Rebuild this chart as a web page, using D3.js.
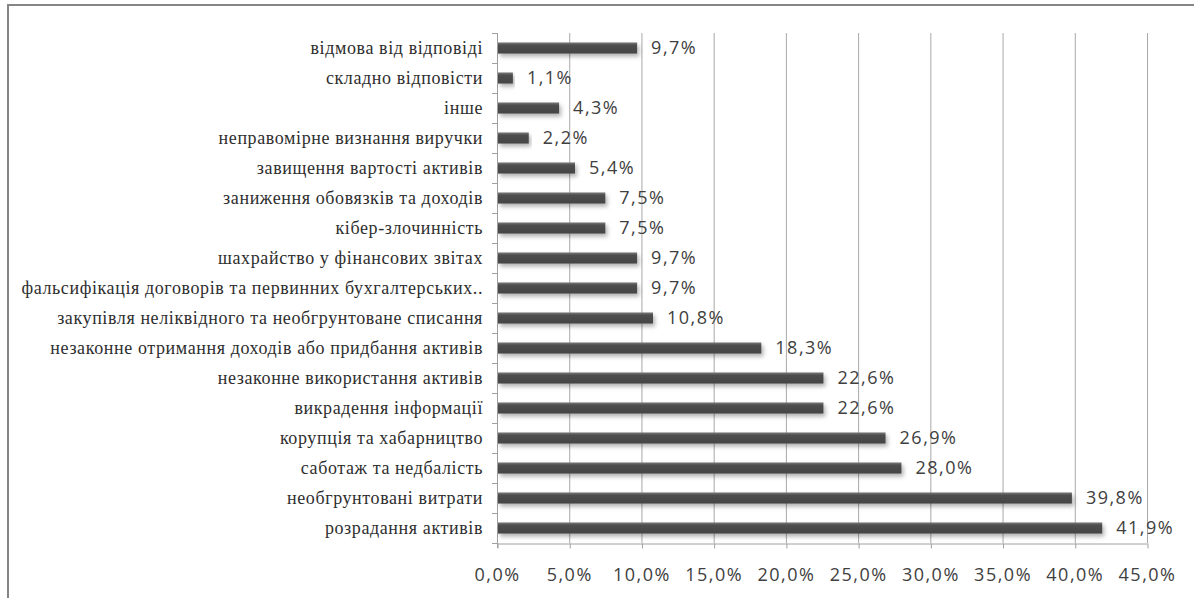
<!DOCTYPE html>
<html>
<head>
<meta charset="utf-8">
<script src="https://cdn.jsdelivr.net/npm/d3@7"></script>
<style>
  body { margin: 0; background: #fff; }
</style>
</head>
<body>
<svg id="chart"></svg>
<script>
// data, top to bottom as in the chart
var categories = [
    "відмова від відповіді",
    "складно відповісти",
    "інше",
    "неправомірне визнання виручки",
    "завищення вартості активів",
    "заниження обовязків та доходів",
    "кібер-злочинність",
    "шахрайство у фінансових звітах",
    "фальсифікація договорів та первинних бухгалтерських..",
    "закупівля неліквідного та необгрунтоване списання",
    "незаконне отримання доходів або придбання активів",
    "незаконне використання активів",
    "викрадення інформації",
    "корупція та хабарництво",
    "саботаж та недбалість",
    "необгрунтовані витрати",
    "розрадання активів"
];
var values = [9.7, 1.1, 4.3, 2.2, 5.4, 7.5, 7.5, 9.7, 9.7, 10.8, 18.3, 22.6, 22.6, 26.9, 28.0, 39.8, 41.9];
var tickValues = [0, 5, 10, 15, 20, 25, 30, 35, 40, 45];

var dimensions = {
    width: 1194,
    height: 598,
    margin: { top: 33, bottom: 55, right: 47, left: 497 }
};

var fmt = function (v) { return v.toFixed(1).replace(".", ",") + "%"; };

var svg = d3.select("#chart")
    .attr("width", dimensions.width)
    .attr("height", dimensions.height);

var defs = svg.append("defs");
var grad = defs.append("linearGradient")
    .attr("id", "barGrad")
    .attr("x1", 0).attr("y1", 0).attr("x2", 0).attr("y2", 1);
grad.append("stop").attr("offset", "0%").attr("stop-color", "#7a7a7a");
grad.append("stop").attr("offset", "25%").attr("stop-color", "#4e4e4e");
grad.append("stop").attr("offset", "100%").attr("stop-color", "#444444");

var shadow = defs.append("filter")
    .attr("id", "shadow")
    .attr("x", "-5%").attr("y", "-50%")
    .attr("width", "115%").attr("height", "250%");
shadow.append("feDropShadow")
    .attr("dx", 2).attr("dy", 3)
    .attr("stdDeviation", 2)
    .attr("flood-color", "#000")
    .attr("flood-opacity", 0.3);

// frame (only left and top visible)
svg.append("rect")
    .attr("x", 8).attr("y", 5)
    .attr("width", 1300).attr("height", 700)
    .attr("fill", "none")
    .attr("stroke", "#858585")
    .attr("stroke-width", 2);

var xScale = d3.scaleLinear()
    .domain([0, 45])
    .range([dimensions.margin.left, dimensions.width - dimensions.margin.right]);

var yScale = d3.scaleBand()
    .domain(categories)
    .range([dimensions.margin.top, dimensions.height - dimensions.margin.bottom])
    .paddingInner(0.63)
    .paddingOuter(0.315);

var bandScale = d3.scaleBand()
    .domain(categories)
    .range([dimensions.margin.top, dimensions.height - dimensions.margin.bottom]);

var yTop = dimensions.margin.top;
var yBottom = dimensions.height - dimensions.margin.bottom;

// gridlines
svg.append("g")
    .selectAll("line")
    .data(tickValues.slice(1))
    .enter()
    .append("line")
    .attr("x1", d => xScale(d) + 0.5)
    .attr("x2", d => xScale(d) + 0.5)
    .attr("y1", yTop)
    .attr("y2", yBottom)
    .attr("stroke", "#a8a8a8")
    .attr("stroke-width", 1);

// bottom axis
var xAxis = svg.append("g")
    .attr("transform", `translate(0, ${yBottom + 0.5})`)
    .call(d3.axisBottom(xScale).tickValues(tickValues).tickSize(5).tickSizeOuter(0).tickFormat(d => fmt(d)));
xAxis.select(".domain").attr("stroke", "#a0a0a0");
xAxis.selectAll(".tick line").attr("stroke", "#a0a0a0").attr("transform", "translate(0.5,0)");
xAxis.selectAll(".tick text")
    .attr("y", 25)
    .attr("dy", "0.71em")
    .attr("fill", "#404040")
    .style("font-family", "'Open Sans', sans-serif")
    .style("font-size", "18px")
    .style("letter-spacing", "1.5px");

// left axis with ticks at band boundaries
var yAxis = svg.append("g");
yAxis.append("line")
    .attr("x1", xScale(0) + 0.5).attr("x2", xScale(0) + 0.5)
    .attr("y1", yTop).attr("y2", yBottom + 5)
    .attr("stroke", "#a0a0a0");
yAxis.selectAll(".btick")
    .data(categories.concat(["__end"]))
    .enter()
    .append("line")
    .attr("class", "btick")
    .attr("x1", xScale(0) - 5).attr("x2", xScale(0))
    .attr("y1", (d, i) => (i < categories.length ? bandScale(d) : yBottom) + 0.5)
    .attr("y2", (d, i) => (i < categories.length ? bandScale(d) : yBottom) + 0.5)
    .attr("stroke", "#a0a0a0");

// category labels
svg.append("g")
    .selectAll("text")
    .data(categories)
    .enter()
    .append("text")
    .attr("x", xScale(0) - 14)
    .attr("y", d => bandScale(d) + bandScale.bandwidth() / 2)
    .attr("dy", "0.32em")
    .attr("text-anchor", "end")
    .attr("fill", "#2e2e2e")
    .style("font-family", "'Liberation Serif', serif")
    .style("font-size", "18px")
    .style("letter-spacing", "0.6px")
    .text(d => d);

// bars
var data = categories.map((c, i) => ({ cat: c, value: values[i] }));

svg.append("g")
    .selectAll("rect")
    .data(data)
    .enter()
    .append("rect")
    .attr("x", xScale(0) + 1)
    .attr("y", d => yScale(d.cat))
    .attr("width", d => xScale(d.value) - xScale(0) - 1)
    .attr("height", yScale.bandwidth())
    .attr("fill", "url(#barGrad)")
    .attr("filter", "url(#shadow)");

// value labels
svg.append("g")
    .selectAll("text")
    .data(data)
    .enter()
    .append("text")
    .attr("x", d => xScale(d.value) + 14)
    .attr("y", d => yScale(d.cat) + yScale.bandwidth() / 2)
    .attr("dy", "0.36em")
    .attr("fill", "#404040")
    .style("font-family", "'Open Sans', sans-serif")
    .style("font-size", "18px")
    .style("letter-spacing", "1.5px")
    .text(d => fmt(d.value));
</script>
</body>
</html>
